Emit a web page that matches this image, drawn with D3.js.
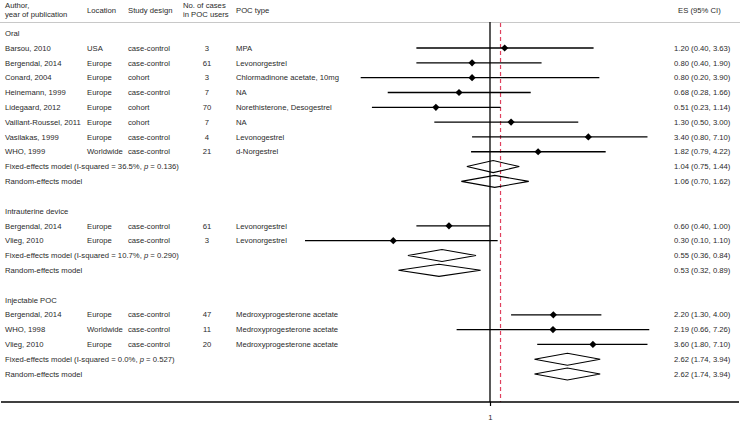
<!DOCTYPE html>
<html><head><meta charset="utf-8">
<script src="https://cdn.jsdelivr.net/npm/d3@7"></script>
<style>body{margin:0;background:#fff}svg{display:block}text{font-family:"Liberation Sans",Arial,Helvetica,sans-serif;font-size:7.7px;fill:#2a2a2a}</style>
</head><body><svg id="c" width="740" height="422"></svg>
<script>
// ---- data ----
const groups = ["Oral", "Intrauterine device", "Injectable POC"];
const studyGroup = [0,0,0,0,0,0,0,0, 1,1, 2,2,2];
const authors = ["Barsou, 2010","Bergendal, 2014","Conard, 2004","Heinemann, 1999","Lidegaard, 2012","Vaillant-Roussel, 2011","Vasilakas, 1999","WHO, 1999",
                 "Bergendal, 2014","Vlieg, 2010",
                 "Bergendal, 2014","WHO, 1998","Vlieg, 2010"];
const locations = ["USA","Europe","Europe","Europe","Europe","Europe","Europe","Worldwide",
                   "Europe","Europe",
                   "Europe","Worldwide","Europe"];
const designs = ["case-control","case-control","cohort","case-control","cohort","cohort","case-control","case-control",
                 "case-control","case-control",
                 "case-control","case-control","case-control"];
const cases = [3,61,3,7,70,7,4,21, 61,3, 47,11,20];
const pocTypes = ["MPA","Levonorgestrel","Chlormadinone acetate, 10mg","NA","Norethisterone, Desogestrel","NA","Levonogestrel","d-Norgestrel",
                  "Levonorgestrel","Levonorgestrel",
                  "Medroxyprogesterone acetate","Medroxyprogesterone acetate","Medroxyprogesterone acetate"];
const es = [1.20,0.80,0.80,0.68,0.51,1.30,3.40,1.82, 0.60,0.30, 2.20,2.19,3.60];
const lo = [0.40,0.40,0.20,0.28,0.23,0.50,0.80,0.79, 0.40,0.10, 1.30,0.66,1.80];
const hi = [3.63,1.90,3.90,1.66,1.14,3.00,7.10,4.22, 1.00,1.10, 4.00,7.26,7.10];
const fixedLabels = ["Fixed-effects model (I-squared = 36.5%, ", "Fixed-effects model (I-squared = 10.7%, ", "Fixed-effects model (I-squared = 0.0%, "];
const fixedP = ["0.136", "0.290", "0.527"];
const fixedES = [1.04, 0.55, 2.62], fixedLo = [0.75, 0.36, 1.74], fixedHi = [1.44, 0.84, 3.94];
const randES = [1.06, 0.53, 2.62], randLo = [0.70, 0.32, 1.74], randHi = [1.62, 0.89, 3.94];
const overallES = 1.14;
const xTicks = [1];

// ---- build rows ----
const rows = [];
groups.forEach((g, gi) => {
  rows.push({type: "group", label: g});
  studyGroup.forEach((sg, i) => { if (sg === gi) rows.push({type: "study", i}); });
  rows.push({type: "fixed", gi});
  rows.push({type: "random", gi});
  if (gi < groups.length - 1) rows.push({type: "blank"});
});

const svg = d3.select("#c");
const x = d3.scaleLog().domain([0.1, 10]).range([305, 675]);
const y = d3.scaleLinear().domain([0, rows.length - 1]).range([33.2, 33.2 + 14.82 * (rows.length - 1)]);
const fmt = d3.format(".2f");
const ci = (e, l, h) => `${fmt(e)} (${fmt(l)}, ${fmt(h)})`;

const col = {author: 5, loc: 87, design: 128, cases: 207, poc: 236, es: 674};

// header
const hdr = svg.append("g");
hdr.append("text").attr("x", col.author).attr("y", 5).attr("dy", "0.35em").text("Author,");
hdr.append("text").attr("x", col.author).attr("y", 14.5).attr("dy", "0.35em").text("year of publication");
hdr.append("text").attr("x", col.loc).attr("y", 10).attr("dy", "0.35em").text("Location");
hdr.append("text").attr("x", col.design).attr("y", 10).attr("dy", "0.35em").text("Study design");
hdr.append("text").attr("x", 183).attr("y", 5).attr("dy", "0.35em").text("No. of cases");
hdr.append("text").attr("x", 183).attr("y", 14.5).attr("dy", "0.35em").text("in POC users");
hdr.append("text").attr("x", col.poc).attr("y", 10).attr("dy", "0.35em").text("POC type");
hdr.append("text").attr("x", 678).attr("y", 10).attr("dy", "0.35em").text("ES (95% CI)");
svg.append("line").attr("x1", 0).attr("x2", 740).attr("y1", 22.5).attr("y2", 22.5).attr("stroke", "#c8c8c8").attr("stroke-width", 1);

// axis
const axisY = 402;
svg.append("line").attr("x1", x(1)).attr("x2", x(1)).attr("y1", 22).attr("y2", axisY).attr("stroke", "#000").attr("stroke-width", 1.3);
svg.append("line").attr("x1", x(overallES)).attr("x2", x(overallES)).attr("y1", 23).attr("y2", axisY)
  .attr("stroke", "#e0405e").attr("stroke-width", 1.2).attr("stroke-dasharray", "4,3");
const axis = d3.axisBottom(x).tickValues(xTicks).tickFormat(d3.format("d")).tickSize(4).tickSizeOuter(0);
const ag = svg.append("g").attr("transform", `translate(0,${axisY})`).call(axis);
ag.select(".domain").remove();
ag.selectAll(".tick line").attr("stroke", "#000").attr("stroke-width", 1.2);
ag.selectAll(".tick text").attr("y", 15).attr("dy", "0.35em").style("font-size", "7.7px").attr("font-family", null);
svg.append("line").attr("x1", 1).attr("x2", 739).attr("y1", axisY).attr("y2", axisY).attr("stroke", "#000").attr("stroke-width", 1.5);

// rows
const g = svg.append("g");
rows.forEach((r, ri) => {
  const yy = y(ri);
  const t = (xx, s, anchor) => g.append("text").attr("x", xx).attr("y", yy).attr("dy", "0.35em").attr("text-anchor", anchor || "start").text(s);
  if (r.type === "group") t(col.author, r.label);
  if (r.type === "study") {
    const i = r.i;
    t(col.author, authors[i]); t(col.loc, locations[i]); t(col.design, designs[i]);
    t(col.cases, cases[i], "middle"); t(col.poc, pocTypes[i]); t(col.es, ci(es[i], lo[i], hi[i]));
    g.append("line").attr("x1", x(lo[i])).attr("x2", x(hi[i])).attr("y1", yy).attr("y2", yy).attr("stroke", "#000").attr("stroke-width", 1.3);
    const cx = x(es[i]);
    g.append("path").attr("d", `M${cx - 3.6},${yy}L${cx},${yy - 3.6}L${cx + 3.6},${yy}L${cx},${yy + 3.6}Z`).attr("fill", "#000");
  }
  if (r.type === "fixed" || r.type === "random") {
    const gi = r.gi;
    const e = r.type === "fixed" ? fixedES[gi] : randES[gi];
    const l = r.type === "fixed" ? fixedLo[gi] : randLo[gi];
    const h = r.type === "fixed" ? fixedHi[gi] : randHi[gi];
    if (r.type === "fixed") {
      const tx = t(col.author, "");
      tx.append("tspan").text(fixedLabels[gi]);
      tx.append("tspan").attr("font-style", "italic").text("p");
      tx.append("tspan").text(" = " + fixedP[gi] + ")");
    } else t(col.author, "Random-effects model");
    t(col.es, ci(e, l, h));
    g.append("path").attr("d", `M${x(l)},${yy}L${x(e)},${yy - 6}L${x(h)},${yy}L${x(e)},${yy + 6}Z`)
      .attr("fill", "none").attr("stroke", "#000").attr("stroke-width", 1.1);
  }
});
</script></body></html>
